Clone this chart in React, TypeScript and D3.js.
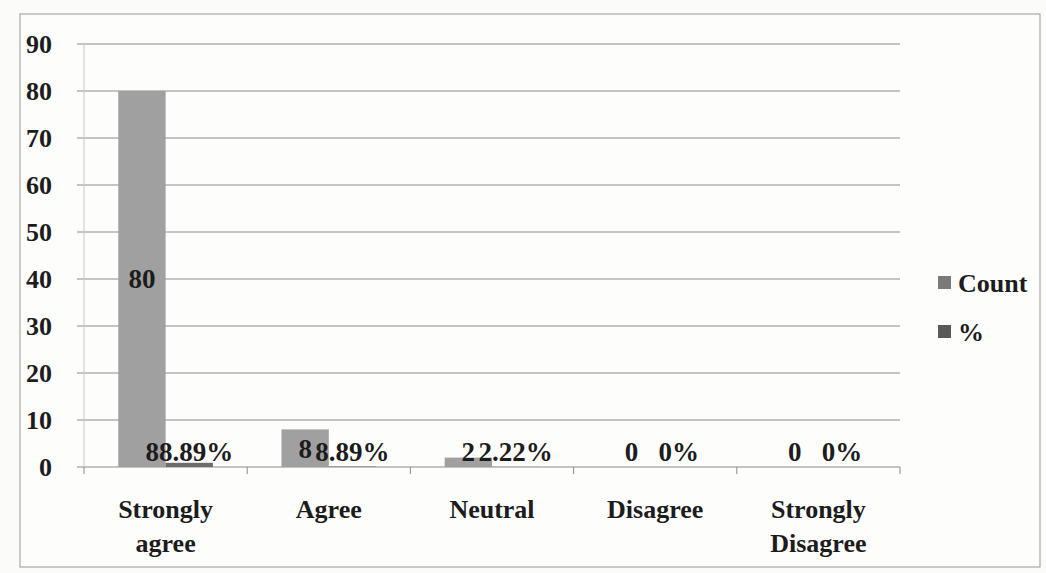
import React from "react";
import * as d3 from "d3";

const categories = ["Strongly agree", "Agree", "Neutral", "Disagree", "Strongly Disagree"];
const categoryLines = [["Strongly", "agree"], ["Agree"], ["Neutral"], ["Disagree"], ["Strongly", "Disagree"]];
const countValues = [80, 8, 2, 0, 0];
const percentValues = [0.8889, 0.0889, 0.0222, 0, 0];
const yTicks = [0, 10, 20, 30, 40, 50, 60, 70, 80, 90];
const seriesNames = ["Count", "%"];

const W = 1046;
const H = 573;
const FONT = "Liberation Serif, Times New Roman, serif";
const COUNT_COLOR = "#a0a0a0";
const PCT_COLOR = "#6c6c6c";
const TEXT = "#1c1c1c";

export default function App() {
  const x = d3.scaleBand<string>().domain(categories).range([84, 900]).paddingInner(0).paddingOuter(0);
  const y = d3.scaleLinear().domain([0, 90]).range([467, 44]);
  const bw = x.bandwidth() * 0.29;
  const sub = d3.scaleBand<string>().domain(seriesNames).range([-bw, bw]);
  const pctFmt = (v: number) => (v === 0 ? "0%" : d3.format(".2%")(v));
  const labelY = (v: number) => Math.min(y(v / 2), y(0) - 15);
  const y0 = y(0);
  const left = x.range()[0];
  const right = x.range()[1];

  return (
    <svg width={W} height={H} style={{ position: "absolute", left: 0, top: 0, background: "#fbfbfa" }}>
      <rect x={20} y={14} width={1020} height={553} fill="#fdfdfc" stroke="#a8a8a8" strokeWidth={1.2} />
      {yTicks.map((t) => (
        <g key={t}>
          <line x1={left - 7} x2={right} y1={y(t)} y2={y(t)} stroke="#8c8c8c" strokeWidth={1.1} />
          <text x={52} y={y(t)} dy="0.35em" textAnchor="end" fontFamily={FONT} fontWeight="bold" fontSize={26} fill={TEXT}>
            {t}
          </text>
        </g>
      ))}
      <line x1={left} x2={left} y1={y(90)} y2={y0} stroke="#c8c8c8" strokeWidth={1} />
      {categories.map((c) => (
        <line key={c} x1={(x(c) as number) + x.bandwidth()} x2={(x(c) as number) + x.bandwidth()} y1={y0} y2={y0 + 7} stroke="#8a8a8a" />
      ))}
      <line x1={left} x2={left} y1={y0} y2={y0 + 7} stroke="#8a8a8a" />
      {categories.map((c, i) => {
        const cx = (x(c) as number) + x.bandwidth() / 2;
        const cxCount = cx + (sub("Count") as number);
        const cxPct = cx + (sub("%") as number);
        const sw = sub.bandwidth();
        return (
          <g key={c}>
            <rect x={cxCount} y={y(countValues[i])} width={sw} height={y0 - y(countValues[i])} fill={COUNT_COLOR} />
            <rect x={cxPct} y={y(percentValues[i])} width={sw} height={Math.max(0, y0 - y(percentValues[i]))} fill={PCT_COLOR} />
            <text x={cxCount + sw / 2} y={labelY(countValues[i])} dy="0.35em" textAnchor="middle" fontFamily={FONT} fontWeight="bold" fontSize={27} fill={TEXT}>
              {countValues[i]}
            </text>
            <text x={cxPct + sw / 2} y={labelY(percentValues[i])} dy="0.35em" textAnchor="middle" fontFamily={FONT} fontWeight="bold" fontSize={27} fill={TEXT}>
              {pctFmt(percentValues[i])}
            </text>
            <text x={cx} y={518} textAnchor="middle" fontFamily={FONT} fontWeight="bold" fontSize={26} fill={TEXT}>
              {categoryLines[i].map((ln, j) => (
                <tspan key={j} x={cx} dy={j === 0 ? 0 : 34}>
                  {ln}
                </tspan>
              ))}
            </text>
          </g>
        );
      })}
      {seriesNames.map((s, i) => (
        <g key={s} transform={`translate(938, ${283 + i * 49})`}>
          <rect x={0} y={-7} width={13} height={13} fill={i === 0 ? "#7a7a7a" : "#5a5a5a"} />
          <text x={20} y={0} dy="0.35em" fontFamily={FONT} fontWeight="bold" fontSize={26} fill={TEXT}>
            {s}
          </text>
        </g>
      ))}
    </svg>
  );
}
